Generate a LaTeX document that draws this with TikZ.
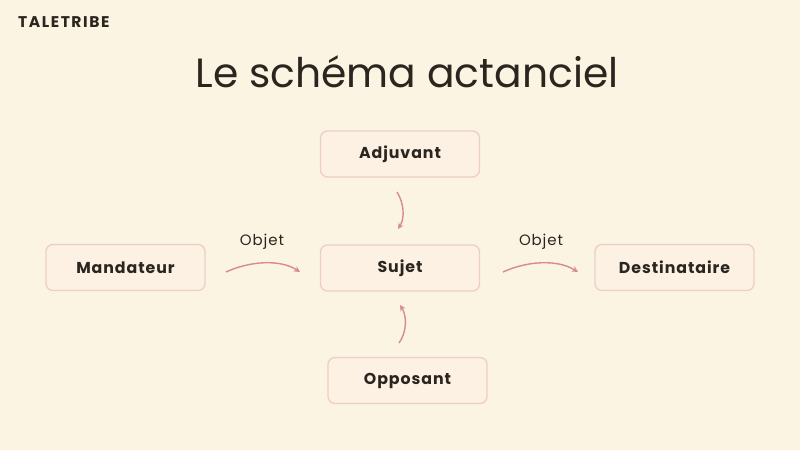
\documentclass[tikz,border=0pt]{standalone}
\usepackage{fontspec}
\setmainfont{Poppins}
\newfontfamily\boxfont[LetterSpace=6]{Poppins}
\newfontfamily\brandfont[LetterSpace=10]{Poppins}
\usetikzlibrary{arrows.meta}
\definecolor{bg}{RGB}{252,244,226}
\definecolor{boxfill}{RGB}{252,241,227}
\definecolor{boxline}{RGB}{236,206,196}
\definecolor{arr}{RGB}{216,138,145}
\definecolor{ink}{RGB}{43,37,32}
\tikzset{
  actbox/.style={draw=boxline, fill=boxfill, line width=1.3pt, rounded corners=7pt,
    minimum width=159pt, minimum height=46pt, inner sep=0pt,
    font=\boxfont\bfseries\fontsize{15.8}{18}\selectfont, text=ink},
  flow/.style={draw=arr, line width=1.4pt, -{Stealth[length=6pt,width=6pt]}},
  lbl/.style={font=\boxfont\fontsize{15}{18}\selectfont, text=ink, inner sep=0pt}
}
\begin{document}
\begin{tikzpicture}[x=1pt,y=-1pt]
\fill[bg] (0,0) rectangle (800,450);
\useasboundingbox (0,0) rectangle (800,450);
\node[anchor=base west, inner sep=0pt, font=\brandfont\bfseries\fontsize{15.5}{17}\selectfont, text=ink] (brand) at (18,27) {TALETRIBE};
\node[anchor=base, inner sep=0pt, font=\fontsize{40.8}{46}\selectfont, text=ink] (title) at (407,87) {Le schéma actanciel};
\node[actbox] (adj) at (400,154) {Adjuvant};
\node[actbox] (suj) at (400,268) {Sujet};
\node[actbox] (man) at (125.5,267.5) {Mandateur};
\node[actbox] (des) at (674.5,267.5) {Destinataire};
\node[actbox] (opp) at (407.5,380.5) {Opposant};
\coordinate (a1) at (226,272);
\coordinate (a2) at (300,272);
\coordinate (b1) at (503,272);
\coordinate (b2) at (578,272);
\coordinate (c1) at (397,192);
\coordinate (c2) at (398,229);
\coordinate (d1) at (399,343);
\coordinate (d2) at (400,305);
\draw[flow] (a1) .. controls (250,261) and (280,259) .. (a2);
\draw[flow] (b1) .. controls (527,261) and (557,259) .. (b2);
\draw[flow] (c1) .. controls (404,203) and (405,218) .. (c2);
\draw[flow] (d1) .. controls (407,332) and (407,316) .. (d2);
\node[lbl] (o1) at (262,242) {Objet};
\node[lbl] (o2) at (541,242) {Objet};
\end{tikzpicture}
\end{document}
